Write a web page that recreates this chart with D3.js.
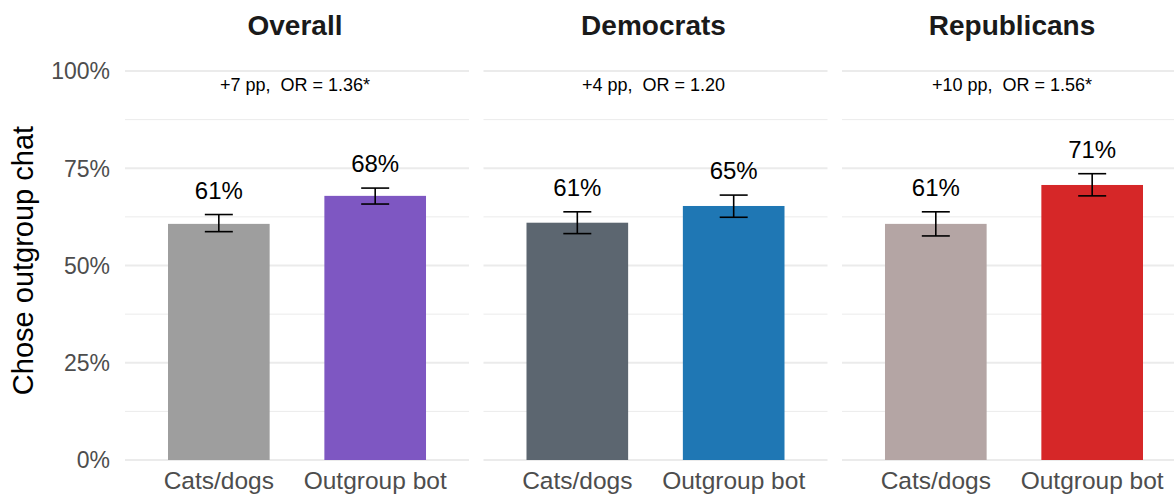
<!DOCTYPE html>
<html>
<head>
<meta charset="utf-8">
<script src="https://cdn.jsdelivr.net/npm/d3@7"></script>
<style>
  html, body { margin: 0; padding: 0; background: #ffffff; }
  svg { display: block; }
  text { font-family: "Liberation Sans", Arial, Helvetica, sans-serif; }
</style>
</head>
<body>
<svg id="chart" width="1174" height="495"></svg>
<script>
// ---- data ----
const panels = ["Overall", "Democrats", "Republicans"];
const categories = ["Cats/dogs", "Outgroup bot"];
const overallValues = [60.7, 67.9];
const democratValues = [61.0, 65.3];
const republicanValues = [60.7, 70.7];
const overallLower = [58.7, 65.8];
const overallUpper = [63.1, 69.9];
const democratLower = [58.2, 62.4];
const democratUpper = [63.8, 68.1];
const republicanLower = [57.6, 67.9];
const republicanUpper = [63.8, 73.6];
const annotations = ["+7 pp,  OR = 1.36*", "+4 pp,  OR = 1.20", "+10 pp,  OR = 1.56*"];
const majorTicks = [0, 25, 50, 75, 100];
const minorTicks = [12.5, 37.5, 62.5, 87.5];
const barColors = [["#9e9e9e", "#7e57c2"], ["#5c6670", "#1f77b4"], ["#b4a5a4", "#d62728"]];

const panelData = panels.map((p, i) => {
  const vals = [overallValues, democratValues, republicanValues][i];
  const lo = [overallLower, democratLower, republicanLower][i];
  const hi = [overallUpper, democratUpper, republicanUpper][i];
  return {
    panel: p,
    note: annotations[i],
    bars: categories.map((c, j) => ({ cat: c, value: vals[j], lo: lo[j], hi: hi[j], color: barColors[i][j] }))
  };
});

// ---- layout ----
const svg = d3.select("#chart");
const plotTop = 71, plotBottom = 460;
const fx = d3.scaleBand().domain(panels).range([125, 1186]).paddingInner(0.0404).paddingOuter(0);
const x = d3.scaleBand().domain(categories).range([0, fx.bandwidth()]).paddingInner(0.35).paddingOuter(0.275);
const y = d3.scaleLinear().domain([0, 100]).range([plotBottom, plotTop]);

// y tick labels
svg.append("g").selectAll("text").data(majorTicks).join("text")
  .attr("x", 110).attr("y", d => y(d)).attr("dy", "0.36em")
  .attr("text-anchor", "end").attr("font-size", 23).attr("fill", "#4d4d4d")
  .text(d => d + "%");

// y title
svg.append("text")
  .attr("transform", `translate(33,${(plotTop + plotBottom) / 2 - 5}) rotate(-90)`)
  .attr("text-anchor", "middle").attr("font-size", 29).attr("fill", "#000")
  .text("Chose outgroup chat");

const g = svg.selectAll("g.panel").data(panelData).join("g")
  .attr("class", "panel")
  .attr("transform", d => `translate(${fx(d.panel)},0)`);

// grid
g.each(function () {
  const sel = d3.select(this);
  sel.selectAll("line.minor").data(minorTicks).join("line").attr("class", "minor")
    .attr("x1", 0).attr("x2", fx.bandwidth())
    .attr("y1", d => y(d)).attr("y2", d => y(d))
    .attr("stroke", "#ebebeb").attr("stroke-width", 1);
  sel.selectAll("line.major").data(majorTicks).join("line").attr("class", "major")
    .attr("x1", 0).attr("x2", fx.bandwidth())
    .attr("y1", d => y(d)).attr("y2", d => y(d))
    .attr("stroke", "#ebebeb").attr("stroke-width", 2);
});

// titles
g.append("text")
  .attr("x", fx.bandwidth() / 2 - 2).attr("y", 35)
  .attr("text-anchor", "middle").attr("font-size", 28).attr("font-weight", "bold").attr("fill", "#1a1a1a")
  .text(d => d.panel);

// annotation
g.append("text")
  .attr("x", fx.bandwidth() / 2 - 2).attr("y", 91)
  .attr("text-anchor", "middle").attr("font-size", 18).attr("fill", "#000")
  .attr("xml:space", "preserve")
  .text(d => d.note);

// bars
g.selectAll("rect.bar").data(d => d.bars).join("rect").attr("class", "bar")
  .attr("x", d => x(d.cat)).attr("width", x.bandwidth())
  .attr("y", d => y(d.value)).attr("height", d => y(0) - y(d.value))
  .attr("fill", d => d.color);

// error bars
const capHalf = 14;
const eb = g.selectAll("g.err").data(d => d.bars).join("g").attr("class", "err")
  .attr("transform", d => `translate(${x(d.cat) + x.bandwidth() / 2},0)`);
eb.append("line").attr("x1", 0).attr("x2", 0).attr("y1", d => y(d.lo)).attr("y2", d => y(d.hi))
  .attr("stroke", "#000").attr("stroke-width", 1.6);
eb.append("line").attr("x1", -capHalf).attr("x2", capHalf).attr("y1", d => y(d.lo)).attr("y2", d => y(d.lo))
  .attr("stroke", "#000").attr("stroke-width", 1.6);
eb.append("line").attr("x1", -capHalf).attr("x2", capHalf).attr("y1", d => y(d.hi)).attr("y2", d => y(d.hi))
  .attr("stroke", "#000").attr("stroke-width", 1.6);

// value labels
eb.append("text").attr("x", 0).attr("y", d => y(d.hi) - 16)
  .attr("text-anchor", "middle").attr("font-size", 24).attr("fill", "#000")
  .text(d => Math.round(d.value) + "%");

// category labels
g.selectAll("text.cat").data(d => d.bars).join("text").attr("class", "cat")
  .attr("x", d => x(d.cat) + x.bandwidth() / 2).attr("y", 489)
  .attr("text-anchor", "middle").attr("font-size", 24.5).attr("fill", "#4d4d4d")
  .text(d => d.cat);
</script>
</body>
</html>
